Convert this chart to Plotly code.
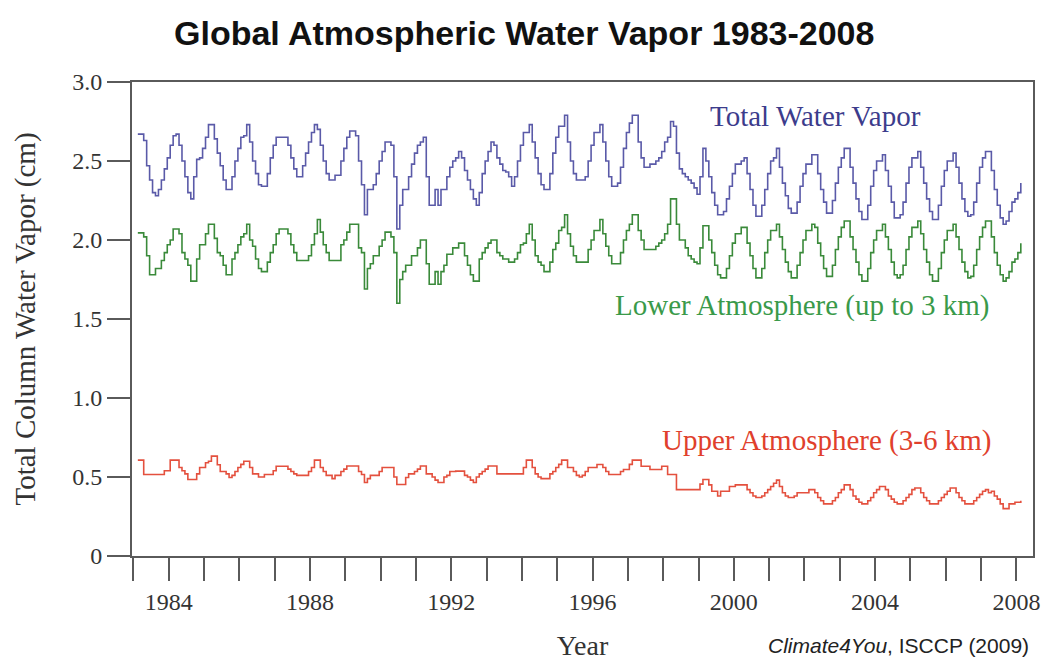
import plotly.graph_objects as go

# Monthly global water vapour (cm); one row of 12 months per year, starting 1983.125
first_month = 1983.125

total_vapor = [
    [2.67, 2.67, 2.63, 2.47, 2.38, 2.30, 2.28, 2.32, 2.38, 2.45, 2.52, 2.60],  # 1983
    [2.66, 2.67, 2.60, 2.50, 2.40, 2.30, 2.26, 2.40, 2.51, 2.52, 2.58, 2.65],  # 1984
    [2.73, 2.73, 2.64, 2.55, 2.47, 2.38, 2.32, 2.32, 2.40, 2.50, 2.58, 2.65],  # 1985
    [2.66, 2.73, 2.62, 2.50, 2.42, 2.35, 2.34, 2.34, 2.42, 2.52, 2.60, 2.65],  # 1986
    [2.65, 2.65, 2.65, 2.60, 2.52, 2.45, 2.40, 2.40, 2.47, 2.55, 2.62, 2.68],  # 1987
    [2.73, 2.70, 2.60, 2.50, 2.42, 2.38, 2.38, 2.41, 2.41, 2.50, 2.58, 2.65],  # 1988
    [2.69, 2.69, 2.66, 2.50, 2.35, 2.16, 2.32, 2.32, 2.35, 2.42, 2.50, 2.56],  # 1989
    [2.62, 2.62, 2.60, 2.40, 2.07, 2.22, 2.32, 2.32, 2.40, 2.48, 2.55, 2.60],  # 1990
    [2.62, 2.65, 2.40, 2.22, 2.22, 2.32, 2.22, 2.32, 2.32, 2.40, 2.46, 2.50],  # 1991
    [2.52, 2.56, 2.52, 2.44, 2.38, 2.32, 2.26, 2.22, 2.30, 2.42, 2.50, 2.56],  # 1992
    [2.62, 2.60, 2.52, 2.48, 2.44, 2.43, 2.40, 2.34, 2.40, 2.50, 2.60, 2.68],  # 1993
    [2.68, 2.73, 2.62, 2.52, 2.42, 2.35, 2.32, 2.32, 2.42, 2.55, 2.65, 2.72],  # 1994
    [2.72, 2.79, 2.62, 2.50, 2.42, 2.38, 2.38, 2.38, 2.40, 2.50, 2.60, 2.68],  # 1995
    [2.68, 2.73, 2.62, 2.50, 2.40, 2.34, 2.34, 2.36, 2.46, 2.58, 2.68, 2.74],  # 1996
    [2.79, 2.79, 2.62, 2.52, 2.46, 2.46, 2.48, 2.48, 2.50, 2.52, 2.56, 2.62],  # 1997
    [2.65, 2.75, 2.72, 2.55, 2.45, 2.42, 2.40, 2.38, 2.36, 2.33, 2.29, 2.40],  # 1998
    [2.58, 2.50, 2.40, 2.30, 2.22, 2.16, 2.16, 2.18, 2.26, 2.34, 2.42, 2.48],  # 1999
    [2.48, 2.50, 2.52, 2.42, 2.32, 2.22, 2.15, 2.15, 2.22, 2.32, 2.42, 2.50],  # 2000
    [2.52, 2.58, 2.46, 2.36, 2.28, 2.20, 2.17, 2.17, 2.24, 2.34, 2.42, 2.48],  # 2001
    [2.48, 2.54, 2.54, 2.42, 2.32, 2.24, 2.17, 2.17, 2.25, 2.36, 2.46, 2.52],  # 2002
    [2.58, 2.58, 2.46, 2.36, 2.26, 2.18, 2.13, 2.13, 2.22, 2.34, 2.44, 2.50],  # 2003
    [2.50, 2.54, 2.44, 2.34, 2.24, 2.14, 2.14, 2.16, 2.24, 2.36, 2.46, 2.52],  # 2004
    [2.52, 2.56, 2.46, 2.36, 2.26, 2.18, 2.13, 2.13, 2.22, 2.34, 2.44, 2.50],  # 2005
    [2.50, 2.55, 2.46, 2.36, 2.26, 2.18, 2.15, 2.16, 2.24, 2.36, 2.46, 2.52],  # 2006
    [2.56, 2.56, 2.44, 2.32, 2.22, 2.14, 2.10, 2.12, 2.18, 2.24, 2.26, 2.30],  # 2007
]
total_vapor_last = 2.36

lower_vapor = [
    [2.045, 2.045, 2.02, 1.90, 1.78, 1.78, 1.82, 1.82, 1.87, 1.92, 1.97, 2.00],  # 1983
    [2.07, 2.07, 2.04, 1.92, 1.88, 1.84, 1.74, 1.74, 1.88, 1.97, 1.97, 2.04],  # 1984
    [2.10, 2.10, 2.01, 1.92, 1.90, 1.84, 1.78, 1.78, 1.88, 1.92, 1.97, 2.02],  # 1985
    [2.04, 2.10, 2.00, 1.96, 1.88, 1.82, 1.80, 1.80, 1.86, 1.92, 1.97, 2.04],  # 1986
    [2.07, 2.07, 2.07, 2.04, 1.97, 1.92, 1.87, 1.87, 1.87, 1.87, 1.90, 1.97],  # 1987
    [2.04, 2.13, 2.05, 1.97, 1.92, 1.87, 1.87, 1.87, 1.87, 1.97, 2.00, 2.05],  # 1988
    [2.10, 2.10, 2.10, 1.95, 1.92, 1.69, 1.82, 1.85, 1.90, 1.90, 1.96, 2.00],  # 1989
    [2.05, 2.05, 2.02, 1.92, 1.60, 1.75, 1.80, 1.84, 1.84, 1.90, 1.90, 1.95],  # 1990
    [2.00, 2.00, 1.85, 1.72, 1.72, 1.80, 1.72, 1.80, 1.84, 1.91, 1.91, 1.95],  # 1991
    [1.95, 1.98, 1.98, 1.90, 1.84, 1.78, 1.74, 1.74, 1.88, 1.92, 1.95, 1.98],  # 1992
    [2.00, 2.00, 1.92, 1.90, 1.88, 1.88, 1.86, 1.86, 1.88, 1.92, 1.97, 1.98],  # 1993
    [2.04, 2.10, 2.00, 1.90, 1.86, 1.84, 1.80, 1.80, 1.86, 1.94, 1.98, 2.06],  # 1994
    [2.08, 2.16, 2.04, 1.96, 1.90, 1.86, 1.86, 1.86, 1.86, 1.94, 2.00, 2.06],  # 1995
    [2.06, 2.13, 2.04, 1.96, 1.90, 1.85, 1.85, 1.85, 1.92, 2.00, 2.06, 2.10],  # 1996
    [2.16, 2.16, 2.06, 2.00, 1.94, 1.94, 1.94, 1.94, 1.96, 1.98, 2.00, 2.04],  # 1997
    [2.10, 2.26, 2.26, 2.10, 2.00, 2.00, 1.95, 1.90, 1.88, 1.86, 1.85, 1.95],  # 1998
    [2.09, 2.09, 2.00, 1.92, 1.84, 1.78, 1.76, 1.76, 1.82, 1.90, 1.98, 2.04],  # 1999
    [2.04, 2.08, 2.08, 1.98, 1.90, 1.82, 1.76, 1.76, 1.82, 1.92, 2.00, 2.06],  # 2000
    [2.06, 2.10, 2.02, 1.94, 1.86, 1.80, 1.76, 1.76, 1.84, 1.92, 2.00, 2.06],  # 2001
    [2.06, 2.10, 2.08, 1.98, 1.90, 1.82, 1.77, 1.77, 1.84, 1.94, 2.02, 2.08],  # 2002
    [2.12, 2.12, 2.02, 1.94, 1.86, 1.78, 1.74, 1.74, 1.82, 1.92, 2.00, 2.06],  # 2003
    [2.06, 2.10, 2.02, 1.94, 1.86, 1.78, 1.76, 1.78, 1.84, 1.94, 2.02, 2.08],  # 2004
    [2.08, 2.12, 2.04, 1.94, 1.86, 1.78, 1.74, 1.74, 1.82, 1.92, 2.00, 2.06],  # 2005
    [2.06, 2.10, 2.02, 1.94, 1.86, 1.80, 1.76, 1.77, 1.84, 1.94, 2.02, 2.08],  # 2006
    [2.12, 2.12, 2.02, 1.92, 1.84, 1.78, 1.74, 1.76, 1.80, 1.86, 1.88, 1.92],  # 2007
]
lower_vapor_last = 1.98

upper_vapor = [
    [0.607, 0.607, 0.516, 0.516, 0.516, 0.516, 0.516, 0.516, 0.516, 0.54, 0.54, 0.607],  # 1983
    [0.607, 0.607, 0.56, 0.54, 0.52, 0.484, 0.484, 0.484, 0.52, 0.56, 0.56, 0.59],  # 1984
    [0.60, 0.632, 0.632, 0.578, 0.535, 0.535, 0.52, 0.497, 0.51, 0.535, 0.56, 0.58],  # 1985
    [0.60, 0.60, 0.56, 0.52, 0.52, 0.50, 0.50, 0.516, 0.516, 0.516, 0.54, 0.568],  # 1986
    [0.568, 0.568, 0.568, 0.55, 0.535, 0.52, 0.51, 0.51, 0.51, 0.51, 0.535, 0.56],  # 1987
    [0.607, 0.607, 0.56, 0.535, 0.51, 0.51, 0.49, 0.51, 0.51, 0.535, 0.55, 0.57],  # 1988
    [0.57, 0.57, 0.57, 0.535, 0.516, 0.465, 0.49, 0.51, 0.51, 0.51, 0.535, 0.56],  # 1989
    [0.56, 0.56, 0.56, 0.50, 0.453, 0.453, 0.453, 0.497, 0.52, 0.52, 0.535, 0.55],  # 1990
    [0.57, 0.57, 0.52, 0.52, 0.50, 0.48, 0.465, 0.465, 0.50, 0.51, 0.535, 0.535],  # 1991
    [0.537, 0.537, 0.537, 0.51, 0.50, 0.48, 0.465, 0.50, 0.52, 0.535, 0.55, 0.57],  # 1992
    [0.57, 0.57, 0.52, 0.52, 0.52, 0.52, 0.52, 0.52, 0.52, 0.52, 0.52, 0.56],  # 1993
    [0.607, 0.607, 0.56, 0.52, 0.50, 0.49, 0.49, 0.49, 0.52, 0.535, 0.56, 0.58],  # 1994
    [0.607, 0.607, 0.56, 0.56, 0.535, 0.51, 0.50, 0.51, 0.535, 0.56, 0.56, 0.56],  # 1995
    [0.579, 0.579, 0.56, 0.535, 0.516, 0.516, 0.516, 0.516, 0.535, 0.547, 0.547, 0.58],  # 1996
    [0.607, 0.607, 0.607, 0.568, 0.568, 0.568, 0.547, 0.547, 0.547, 0.547, 0.568, 0.568],  # 1997
    [0.516, 0.516, 0.516, 0.42, 0.42, 0.42, 0.42, 0.42, 0.42, 0.42, 0.42, 0.455],  # 1998
    [0.484, 0.484, 0.45, 0.41, 0.41, 0.38, 0.41, 0.41, 0.41, 0.44, 0.44, 0.45],  # 1999
    [0.45, 0.45, 0.45, 0.42, 0.40, 0.38, 0.37, 0.37, 0.38, 0.40, 0.42, 0.44],  # 2000
    [0.46, 0.48, 0.44, 0.40, 0.38, 0.37, 0.37, 0.38, 0.40, 0.40, 0.40, 0.40],  # 2001
    [0.42, 0.42, 0.40, 0.37, 0.35, 0.33, 0.33, 0.33, 0.35, 0.37, 0.40, 0.42],  # 2002
    [0.45, 0.45, 0.42, 0.38, 0.36, 0.34, 0.33, 0.33, 0.35, 0.37, 0.40, 0.42],  # 2003
    [0.44, 0.44, 0.42, 0.38, 0.36, 0.34, 0.33, 0.33, 0.35, 0.37, 0.39, 0.42],  # 2004
    [0.43, 0.43, 0.40, 0.37, 0.35, 0.33, 0.33, 0.33, 0.35, 0.37, 0.39, 0.41],  # 2005
    [0.43, 0.43, 0.40, 0.37, 0.35, 0.33, 0.33, 0.33, 0.35, 0.37, 0.39, 0.41],  # 2006
    [0.42, 0.40, 0.41, 0.38, 0.36, 0.33, 0.30, 0.30, 0.33, 0.33, 0.34, 0.34],  # 2007
]
upper_vapor_last = 0.35

y_tick_values = [0, 0.5, 1.0, 1.5, 2.0, 2.5, 3.0]
y_tick_labels = ["0", "0.5", "1.0", "1.5", "2.0", "2.5", "3.0"]


def monthly(rows, last):
    values = [v for row in rows for v in row] + [last]
    times = [first_month + k / 12 for k in range(len(values))]
    return times, values


SERIF = "Liberation Serif, Times New Roman, serif"
SANS = "Liberation Sans, Arial, sans-serif"
AXIS_GREY = "#5a5a5a"

series = [
    (total_vapor, total_vapor_last, "#5a5aa8"),
    (lower_vapor, lower_vapor_last, "#3a8a3a"),
    (upper_vapor, upper_vapor_last, "#e4503e"),
]

fig = go.Figure()
for rows, last, colour in series:
    t, v = monthly(rows, last)
    fig.add_trace(go.Scatter(x=t, y=v, mode="lines",
                             line=dict(color=colour, width=1.6, shape="hv"),
                             showlegend=False, hoverinfo="skip"))

fig.update_layout(
    width=1045, height=662,
    margin=dict(l=132, r=12, t=82, b=106),
    paper_bgcolor="white", plot_bgcolor="white",
    showlegend=False,
)

fig.update_xaxes(
    range=[1982.96, 2008.47], automargin=False,
    tickmode="linear", tick0=1984, dtick=4,
    ticks="outside", ticklen=23, tickwidth=2, tickcolor=AXIS_GREY,
    minor=dict(tickmode="linear", tick0=1983, dtick=1, ticks="outside",
               ticklen=23, tickwidth=2, tickcolor=AXIS_GREY, showgrid=False),
    showline=True, linecolor=AXIS_GREY, linewidth=2, mirror=True,
    showgrid=False, zeroline=False,
    tickfont=dict(family=SERIF, size=24, color="#333333"),
    title=dict(text="Year", font=dict(family=SERIF, size=28, color="#333333"), standoff=22),
)
fig.update_yaxes(
    range=[0, 3.0], automargin=False,
    tickmode="array", tickvals=y_tick_values, ticktext=y_tick_labels,
    ticks="outside", ticklen=23, tickwidth=2, tickcolor=AXIS_GREY,
    showline=True, linecolor=AXIS_GREY, linewidth=2, mirror=True,
    showgrid=False, zeroline=False,
    tickfont=dict(family=SERIF, size=24, color="#333333"),
    title=dict(text="Total Column Water Vapor (cm)",
               font=dict(family=SERIF, size=29, color="#333333"), standoff=28),
)

fig.add_annotation(text="<b>Global Atmospheric Water Vapor 1983-2008</b>",
                   xref="paper", yref="paper", x=(524 - 132) / 901, y=1 + (82 - 33) / 474,
                   xanchor="center", yanchor="middle", showarrow=False,
                   font=dict(family=SANS, size=34, color="#111111"))

labels = [
    ("Total Water Vapor", 815, 116, "#3c3c8c"),
    ("Lower Atmosphere (up to 3 km)", 802, 305, "#3a9a4a"),
    ("Upper Atmosphere (3-6 km)", 826, 440, "#e0402c"),
]
for text, px, py, colour in labels:
    fig.add_annotation(text=text, xref="paper", yref="paper",
                       x=(px - 132) / 901, y=(556 - py) / 474,
                       xanchor="center", yanchor="middle", showarrow=False,
                       font=dict(family=SERIF, size=29, color=colour))

fig.add_annotation(text="<i>Climate4You</i>, ISCCP (2009)",
                   xref="paper", yref="paper", x=(1031 - 132) / 901, y=-(645 - 556) / 474,
                   xanchor="right", yanchor="middle", showarrow=False,
                   font=dict(family=SANS, size=21, color="#222222"))

fig.write_html("out.html")
